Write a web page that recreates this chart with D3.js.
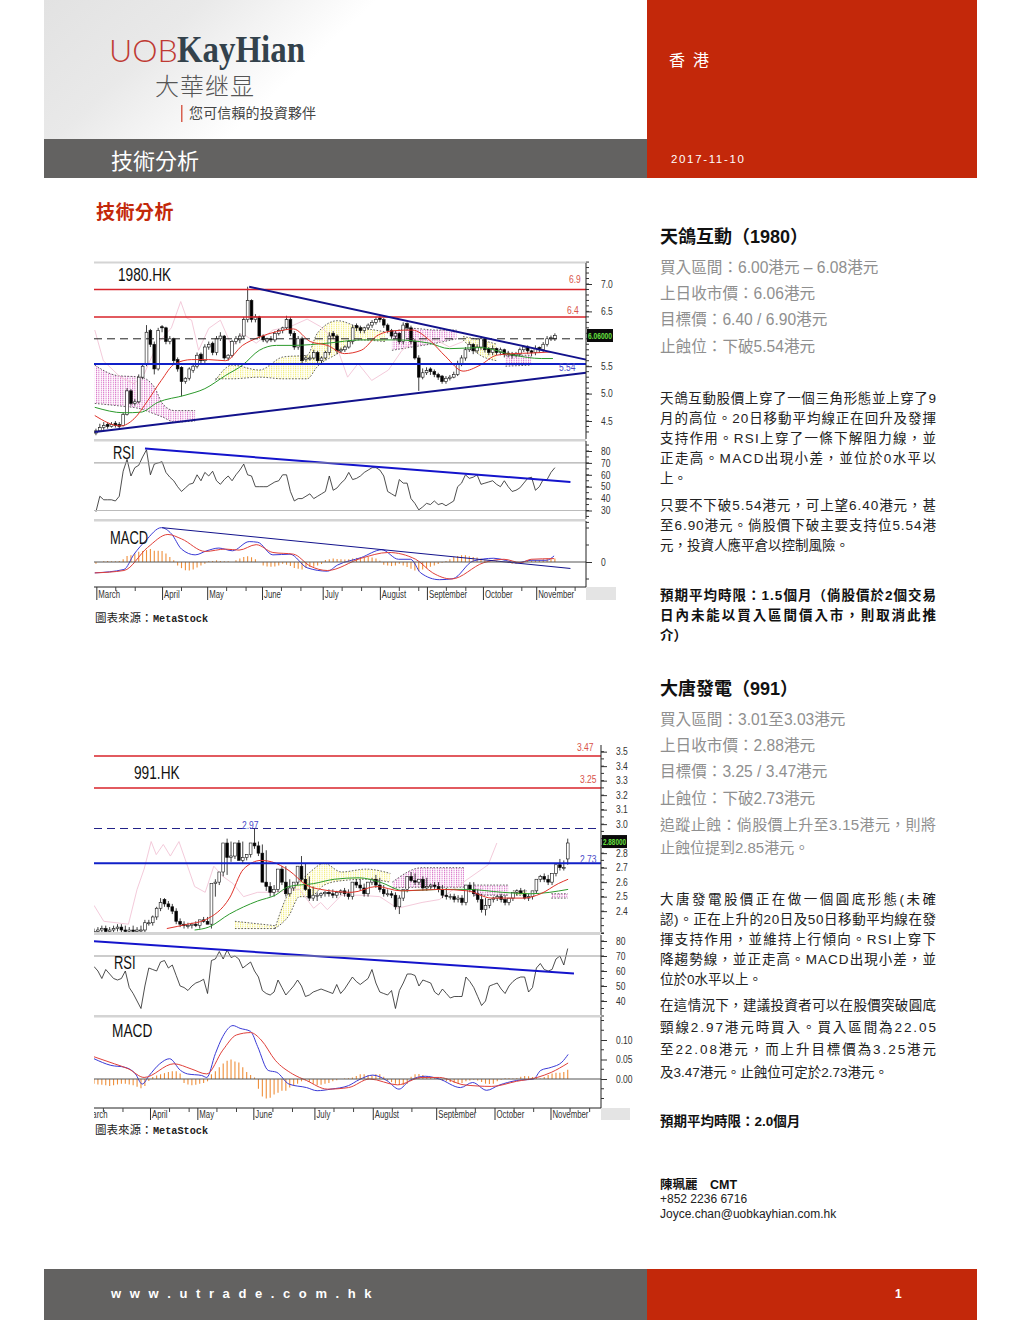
<!DOCTYPE html>
<html><head><meta charset="utf-8">
<script src="https://cdn.jsdelivr.net/npm/d3@7/dist/d3.min.js"></script>
<style>html,body{margin:0;padding:0;background:#fff}svg{display:block}</style>
</head><body><svg id="page" width="1020" height="1320"></svg>
<script>
// ---------- Chart 1: 1980.HK ----------
const open1=[4.28,4.32,4.38,4.44,4.40,4.46,4.44,4.42,4.62,5.05,4.82,4.85,5.30,5.55,6.15,5.90,5.45,6.22,6.20,5.95,6.00,5.62,5.48,5.22,5.28,5.42,5.50,5.72,5.60,5.85,5.92,5.75,6.00,6.05,5.65,5.70,5.95,5.98,6.05,6.35,6.70,6.35,6.40,6.05,5.96,6.00,5.98,6.10,6.15,6.20,6.35,6.10,5.85,6.00,5.62,5.65,5.65,5.75,5.60,5.65,5.75,6.10,6.05,5.78,5.80,5.85,5.95,6.24,6.20,6.15,6.20,6.25,6.30,6.38,6.35,6.25,6.15,6.05,6.10,5.95,6.28,6.20,5.95,5.65,5.30,5.38,5.45,5.40,5.35,5.32,5.22,5.28,5.30,5.35,5.55,5.65,5.80,5.90,5.78,5.85,6.00,5.82,5.75,5.82,5.75,5.80,5.74,5.72,5.70,5.72,5.80,5.85,5.78,5.75,5.84,5.80,5.90,6.00,6.00];
const high1=[4.36,4.45,4.48,4.48,4.48,4.50,4.48,4.66,5.10,5.08,4.90,5.35,5.55,6.25,6.18,5.95,6.20,6.25,6.22,6.05,6.02,5.66,5.50,5.30,5.48,5.55,5.75,5.75,5.90,5.95,5.95,6.05,6.12,6.07,5.72,5.98,6.05,6.10,6.40,6.95,6.72,6.45,6.42,6.08,6.02,6.05,6.14,6.18,6.22,6.42,6.40,6.14,6.05,6.04,5.70,5.70,5.80,5.78,5.68,5.78,6.12,6.14,6.08,5.84,5.88,5.98,6.25,6.28,6.24,6.22,6.28,6.34,6.40,6.42,6.38,6.28,6.18,6.14,6.12,6.30,6.30,6.24,6.00,5.70,5.46,5.48,5.48,5.44,5.38,5.34,5.32,5.34,5.40,5.60,5.70,5.85,5.95,5.92,5.90,6.05,6.02,5.85,5.88,5.84,5.84,5.82,5.78,5.76,5.76,5.84,5.88,5.88,5.80,5.88,5.86,5.94,6.05,6.06,6.10];
const low1=[4.24,4.30,4.34,4.36,4.38,4.38,4.36,4.40,4.60,4.78,4.78,4.82,5.26,5.50,5.85,5.35,5.42,6.12,5.90,5.90,5.55,5.40,4.95,5.18,5.24,5.38,5.46,5.55,5.56,5.80,5.70,5.70,5.96,5.62,5.60,5.66,5.90,5.92,6.00,6.30,6.30,6.30,6.00,5.94,5.92,5.94,5.94,6.06,6.10,6.16,6.05,5.80,5.80,5.55,5.58,5.60,5.62,5.56,5.55,5.62,5.70,6.00,5.72,5.74,5.76,5.82,5.90,6.14,6.10,6.10,6.16,6.20,6.26,6.30,6.20,6.10,6.00,6.00,5.90,5.90,6.15,5.90,5.62,5.05,5.26,5.34,5.34,5.30,5.25,5.18,5.18,5.24,5.28,5.32,5.50,5.60,5.76,5.72,5.74,5.80,5.75,5.70,5.70,5.70,5.70,5.66,5.66,5.64,5.66,5.68,5.76,5.72,5.68,5.70,5.74,5.76,5.86,5.96,5.96];
const close1=[4.32,4.38,4.42,4.40,4.44,4.42,4.40,4.62,5.05,4.82,4.85,5.30,5.50,6.12,5.90,5.45,6.15,6.20,5.95,6.00,5.60,5.45,5.22,5.28,5.45,5.50,5.70,5.60,5.85,5.90,5.75,6.00,6.05,5.65,5.70,5.95,6.00,6.05,6.35,6.70,6.35,6.40,6.05,5.98,6.00,5.98,6.10,6.15,6.20,6.35,6.10,5.85,6.00,5.60,5.65,5.65,5.75,5.60,5.65,5.75,6.05,6.05,5.78,5.80,5.85,5.95,6.20,6.20,6.15,6.20,6.25,6.30,6.35,6.35,6.25,6.15,6.05,6.10,5.95,6.25,6.20,5.95,5.65,5.30,5.38,5.42,5.40,5.35,5.30,5.22,5.28,5.30,5.35,5.55,5.65,5.80,5.90,5.78,5.85,6.00,5.80,5.75,5.82,5.75,5.80,5.72,5.72,5.70,5.72,5.80,5.85,5.78,5.75,5.82,5.80,5.90,6.00,6.02,6.06];
const ma20Days1=[-0.3,6.3,9.8,13.3,16.8,20.2,24.6,29,33.3,37.7,42,46.4,50.8,55.1,59.5,63.9,68.2,72.6,77,81.3,85.7,90,94.4,98.8,103,107.5,111.9,117];
const ma20Vals1=[4.6,4.41,4.54,4.87,5.24,5.54,5.62,5.62,5.6,5.88,6.03,6.13,6.18,5.95,5.88,5.73,5.79,6.07,6.15,6.16,5.98,5.67,5.41,5.52,5.7,5.73,5.74,5.76];
const ma50Days1=[-0.3,7.2,11.5,15.9,22.9,28,33.3,37.7,42,46.4,50.8,59.5,68.2,77,85.7,90.9,98.8,107.5,114.5,117.5];
const ma50Vals1=[4.75,4.65,4.66,4.84,4.97,5.09,5.33,5.52,5.79,5.88,5.88,5.92,5.98,5.98,5.92,5.82,5.84,5.7,5.64,5.64];
const lagDays1=[-0.3,1.9,6.3,9.8,12.4,15.9,19.4,21.8,23.3,24.6,26.4,29,32,35,37.7,41.2,45.5,49.9,54.3,57.8,61.3,64.7,67.4,70.9,75.2,78.7,82.2,87.4,90.9,94.4];
const lagVals1=[6.16,5.6,5.3,5.18,5.36,5.92,6.2,6.68,6.38,6.34,5.79,6.19,6.34,5.85,6.1,5.92,6.16,6.22,6.36,6.22,5.98,5.3,5.55,5.24,5.43,5.79,5.98,5.98,5.85,5.95];
const cloudKinds1=["pink","yellow","pink","yellow","pink"];
const cloudDays1=[[-0.3,5.4,11.5,15,17.2,20.2,25.5],[30.7,35,42,48.2,54.3,56.9,62.1,67.4,74.3],[76.1,81.3,87.4,92.7],[94.4,98.8,103.1],[105.3,111.9]];
const cloudTop1=[[5.52,5.33,5.3,5.12,4.81,4.69,4.69],[5.24,5.52,5.43,5.67,5.7,6.1,6.33,6.22,6.13],[6.13,6.19,6.16,6.16],[6.04,5.98,5.9],[5.7,5.7]];
const cloudBottom1=[[4.82,4.78,4.72,4.63,4.57,4.48,4.5],[5.27,5.27,5.3,5.27,5.27,5.49,5.73,5.98,5.95],[5.79,5.85,5.92,6.0],[5.98,5.7,5.6],[5.5,5.52]];
const rsi1=[29,42,39,39,39,38,42,63,73,59,66,68,75,81,60,69,70,71,62,58,55,50,46,49,52,53,60,55,62,59,63,55,52,56,59,55,60,64,69,60,59,50,50,50,50,52,54,55,60,60,46,38,40,40,42,44,40,42,44,46,59,47,49,53,56,62,56,57,59,62,64,66,66,64,59,46,44,42,56,53,53,40,36,30.5,33,36,35,38,35,36,34,36,38,50,53,60,57,58,60,52,53,54,55,52,50,55,50,46,47,49,53,57,58,47,50,56,56,62,66];
const macd1Days=[-0.3,7.2,9.8,12.8,16.8,19.4,22,25.5,28.5,31.6,35.1,39.4,41.6,45.5,49.9,54.3,59.5,62.1,68.2,73.5,77.8,80.9,83.5,88.3,91.8,97,102.3,108.4,111.9,115.8,117.8];
const macd1Vals=[-0.32,-0.22,0.23,0.63,1.01,0.83,0.38,0.21,0.33,0.41,0.33,0.6,0.58,0.21,0.23,-0.17,-0.27,-0.09,0.13,0.36,0.08,0.08,-0.32,-0.52,-0.49,0.03,0.11,-0.02,0.05,0.05,0.18];
const signal1Days=[-0.3,7.2,13.3,18.5,22,28.1,33.3,36.8,41.2,45.5,50.8,55.1,59.5,68.2,75.2,82.2,86.6,91.4,99.7,104.9,109.2,111.9,117.8];
const signal1Vals=[-0.32,-0.25,0.43,0.81,0.68,0.31,0.38,0.35,0.51,0.28,0.23,-0.12,-0.25,0.11,0.28,0.08,-0.32,-0.5,-0.02,0.08,-0.02,0.08,0.1];
const hist1=[-0.05,0,0.02,0.03,0.02,0.02,0.03,0.08,0.18,0.2,0.25,0.3,0.32,0.35,0.38,0.33,0.33,0.32,0.25,0.15,0.05,-0.1,-0.18,-0.24,-0.25,-0.22,-0.16,-0.1,-0.05,0.02,0.03,0.05,0.03,0.02,0.02,0,0.05,0.1,0.15,0.17,0.14,0.08,0,-0.1,-0.13,-0.14,-0.13,-0.1,-0.05,-0.08,-0.12,-0.18,-0.2,-0.22,-0.18,-0.15,-0.14,-0.1,-0.06,0.06,0.08,0.1,0.09,0.08,0.07,0.08,0.1,0.12,0.13,0.12,0.15,0.13,0.1,0.04,-0.08,-0.1,-0.12,-0.1,-0.05,-0.1,-0.15,-0.2,-0.25,-0.27,-0.22,-0.18,-0.14,-0.1,-0.06,-0.02,0.03,0.08,0.15,0.18,0.2,0.2,0.17,0.15,0.13,0.1,0.05,0.03,0.01,0.02,0,0,-0.03,-0.05,-0.06,-0.03,0.02,0.04,0.05,0.05,0.06,0.08,0.1,0.12,0.1];
const priceLevels1=[6.9,6.4];
const priceTicks1=[4.5,5.0,5.5,6.5,7.0];
const rsiTicks1=[30,40,50,60,70,80];
const resistance1Days=[39.4,126],resistance1Vals=[6.95,5.62];
const support1Days=[-0.3,126],support1Vals=[4.30,5.38];
const rsiTrend1Days=[12.6,122],rsiTrend1Vals=[82,54];
const macdTrend1Days=[17,122],macdTrend1Vals=[1.01,-0.19];

// ---------- Chart 2: 991.HK ----------
const open2=[2.25,2.26,2.27,2.28,2.26,2.27,2.28,2.29,2.27,2.26,2.27,2.26,2.27,2.27,2.32,2.32,2.36,2.42,2.48,2.45,2.43,2.40,2.33,2.31,2.30,2.30,2.31,2.30,2.34,2.33,2.31,2.59,2.60,2.67,2.87,2.77,2.78,2.87,2.75,2.77,2.79,2.87,2.85,2.80,2.60,2.57,2.53,2.55,2.69,2.60,2.52,2.56,2.60,2.71,2.62,2.55,2.49,2.51,2.51,2.52,2.53,2.52,2.51,2.53,2.54,2.52,2.50,2.60,2.58,2.56,2.52,2.60,2.62,2.58,2.55,2.52,2.52,2.51,2.43,2.49,2.55,2.64,2.61,2.60,2.62,2.56,2.57,2.58,2.57,2.55,2.51,2.50,2.50,2.48,2.49,2.46,2.58,2.55,2.52,2.48,2.41,2.44,2.48,2.49,2.50,2.48,2.46,2.49,2.53,2.54,2.52,2.49,2.50,2.54,2.62,2.64,2.62,2.60,2.66,2.72,2.70,2.76];
const high2=[2.28,2.29,2.30,2.30,2.29,2.30,2.31,2.31,2.30,2.29,2.30,2.29,2.30,2.34,2.34,2.37,2.43,2.49,2.49,2.47,2.45,2.42,2.35,2.33,2.32,2.32,2.33,2.32,2.36,2.36,2.33,2.62,2.63,2.72,2.90,2.88,2.80,2.89,2.88,2.79,2.82,2.97,2.88,2.86,2.82,2.60,2.58,2.57,2.71,2.71,2.62,2.58,2.62,2.78,2.73,2.64,2.57,2.53,2.53,2.54,2.55,2.55,2.54,2.55,2.56,2.55,2.53,2.62,2.62,2.59,2.57,2.63,2.65,2.63,2.58,2.55,2.54,2.53,2.51,2.51,2.57,2.67,2.66,2.62,2.64,2.63,2.59,2.60,2.60,2.58,2.56,2.52,2.52,2.51,2.51,2.50,2.60,2.60,2.55,2.52,2.49,2.46,2.50,2.51,2.52,2.51,2.49,2.51,2.55,2.56,2.55,2.52,2.52,2.56,2.65,2.66,2.65,2.63,2.69,2.76,2.75,2.90];
const low2=[2.23,2.24,2.25,2.24,2.24,2.25,2.26,2.25,2.24,2.24,2.25,2.24,2.25,2.25,2.30,2.30,2.34,2.40,2.43,2.41,2.38,2.31,2.29,2.28,2.28,2.28,2.29,2.28,2.32,2.31,2.28,2.50,2.58,2.64,2.65,2.74,2.76,2.75,2.73,2.75,2.77,2.83,2.78,2.60,2.54,2.50,2.50,2.53,2.58,2.50,2.50,2.54,2.58,2.60,2.54,2.47,2.47,2.47,2.49,2.50,2.50,2.49,2.49,2.51,2.50,2.48,2.48,2.56,2.54,2.50,2.50,2.58,2.56,2.53,2.50,2.50,2.49,2.41,2.38,2.47,2.53,2.60,2.58,2.58,2.54,2.54,2.55,2.55,2.53,2.49,2.48,2.48,2.46,2.46,2.44,2.44,2.53,2.50,2.46,2.39,2.37,2.42,2.46,2.47,2.46,2.44,2.44,2.47,2.51,2.52,2.48,2.47,2.48,2.52,2.60,2.60,2.58,2.58,2.64,2.68,2.68,2.72];
const close2=[2.26,2.27,2.28,2.26,2.27,2.28,2.29,2.27,2.26,2.27,2.26,2.27,2.27,2.32,2.32,2.36,2.42,2.46,2.45,2.43,2.40,2.33,2.31,2.30,2.30,2.31,2.30,2.34,2.33,2.31,2.59,2.60,2.67,2.87,2.77,2.78,2.87,2.75,2.77,2.79,2.87,2.85,2.80,2.60,2.57,2.53,2.55,2.69,2.60,2.52,2.56,2.60,2.71,2.62,2.55,2.49,2.51,2.51,2.52,2.53,2.52,2.51,2.53,2.54,2.52,2.50,2.60,2.58,2.56,2.52,2.60,2.62,2.58,2.55,2.52,2.52,2.51,2.43,2.49,2.55,2.64,2.61,2.60,2.62,2.56,2.57,2.58,2.57,2.55,2.51,2.50,2.50,2.48,2.49,2.46,2.58,2.55,2.52,2.48,2.41,2.44,2.48,2.49,2.50,2.48,2.46,2.49,2.53,2.54,2.52,2.49,2.50,2.54,2.62,2.64,2.62,2.60,2.66,2.72,2.70,2.70,2.87];
const ma20Days2=[18.6,23.9,28.4,34.6,38.2,42.7,45.4,49.8,54.3,57.9,65.9,72.1,78.4,88.2,95.4,101.6,109.6,114.1,118.6,121.1];
const ma20Vals2=[2.28,2.31,2.34,2.49,2.69,2.75,2.74,2.68,2.58,2.55,2.53,2.57,2.54,2.55,2.54,2.49,2.49,2.52,2.59,2.62];
const ma50Days2=[25.7,29.3,34.6,41.8,46.3,49.8,56.1,61.4,67.7,73,79.3,88.2,95.4,104.3,111.4,121.1];
const ma50Vals2=[2.27,2.29,2.38,2.47,2.51,2.57,2.59,2.62,2.63,2.6,2.54,2.55,2.55,2.53,2.52,2.55];
const lagDays2=[0,2.5,8.8,11,12.8,14.6,15.9,17.7,19.5,21.7,23.9,25.7,28.4,30.6,32.9,35.5,38.2,41.8,44.9,48.9,52.5,56.1,57.9,59.6,63.2,67.7,73,77.5,83.8,88.2,95.4,100.7,102.9];
const lagVals2=[2.44,2.33,2.31,2.55,2.69,2.88,2.79,2.86,2.78,2.88,2.71,2.57,2.53,2.71,2.64,2.59,2.5,2.53,2.53,2.54,2.55,2.42,2.46,2.41,2.51,2.51,2.5,2.42,2.46,2.48,2.62,2.72,2.87];
const cloudKinds2=["yellow","yellow","pink","pink","yellow","pink"];
const cloudDays2=[[36,46.2],[46.2,49.8,52.5,55.2,58.8,63.2,69.5,75.7],[76.2,83.8,94.5],[97.1,106],[107,110.5],[116.8,121]];
const cloudTop2=[[2.33,2.30],[2.28,2.53,2.6,2.67,2.73,2.67,2.69,2.66],[2.6,2.7,2.7],[2.58,2.58],[2.54,2.54],[2.52,2.52]];
const cloudBottom2=[[2.28,2.28],[2.28,2.37,2.5,2.5,2.58,2.61,2.62,2.6],[2.56,2.565,2.565],[2.51,2.51],[2.51,2.51],[2.49,2.49]];
const rsi2=[63,60,55,61,58,55,54,55,60,49,45,40,35,50,62,61,60,66,67,62,64,57,50,49,47,50,52,53,54.5,45,67,68,73,68,74,69,70,68,62,64,66,60,56,47,45,44,46,54,49,44,47,50,54,50,43,44,46,47,48,47,46,45,51,45,48,52,56,53,51,53,55,61,52,46,45,44,47,35,47,52,58,58,57,50,54,53,52,46,44,48,45,42,43,43,43,56,53,49,43,37,40,50,51,52,48,45,50,53,55,56,56,46,49,62,65,61,60,61,68,70,64,75];
const macd2Days=[0,4.3,7.9,10.6,12.3,14.1,16.8,19.3,22.1,23.9,27.5,28.8,31,32.9,35.5,37.3,40,41.8,44.5,46.7,49.8,54.3,57,60.5,65,67.7,71.2,74.8,77.9,80.6,84.6,88.2,93.6,96.7,100.3,103.4,107.9,112.3,114.1,116.8,119.5,121.1];
const macd2Vals=[0.052,0.035,0.03,0.013,-0.013,0.009,0.039,0.052,0.022,0.013,0.009,0.004,0.065,0.109,0.137,0.13,0.122,0.083,0.022,0.017,-0.013,-0.022,-0.03,-0.026,-0.017,-0.002,0.01,-0.004,-0.026,-0.004,0.007,0,-0.022,-0.009,-0.029,-0.016,-0.004,0,0.022,0.03,0.043,0.063];
const signal2Days=[0,5.2,8.8,12.8,20.4,24.8,28.8,32.9,36.4,40,42.7,46.3,50.7,54.3,59.6,65,70.4,77.5,83.8,88.2,94.5,101.6,107.9,113.2,116.8,121.1];
const signal2Vals=[0.057,0.039,0.026,0.004,0.039,0.026,0.013,0.074,0.113,0.119,0.1,0.048,0.013,-0.004,-0.026,-0.022,0,-0.015,0.004,0.004,-0.015,-0.019,-0.006,0.004,0.017,0.041];
const hist2=[-0.012,-0.014,-0.015,-0.016,-0.018,-0.016,-0.014,-0.012,-0.012,-0.014,-0.016,-0.02,-0.024,-0.018,-0.005,0.005,0.009,0.012,0.015,0.018,0.02,0.02,0.014,-0.01,-0.014,-0.016,-0.015,-0.012,-0.01,-0.006,0.012,0.02,0.03,0.04,0.047,0.05,0.045,0.042,0.03,0.018,0.01,0.004,-0.025,-0.045,-0.05,-0.048,-0.04,-0.035,-0.03,-0.03,-0.022,-0.018,-0.012,-0.006,-0.002,-0.008,-0.012,-0.016,-0.015,-0.012,-0.01,-0.006,-0.003,0,0.001,0.002,0.004,0.008,0.012,0.012,0.01,0.009,0.012,0.012,0.006,-0.004,-0.008,-0.012,-0.014,-0.016,-0.012,0.006,0.012,0.013,0.01,0.006,0.004,0.002,0,-0.004,-0.006,-0.008,-0.01,-0.012,-0.01,-0.006,-0.004,-0.002,-0.004,-0.008,-0.012,-0.013,-0.012,-0.006,-0.002,0.002,0.002,0.001,0.002,0.006,0.008,0.007,0.005,0.003,0.001,0.005,0.01,0.014,0.016,0.016,0.018,0.024];
const priceLevels2=[3.47,3.25];
const priceTicks2=[2.4,2.5,2.6,2.7,2.8,3.0,3.1,3.2,3.3,3.4,3.5];
const rsiTicks2=[40,50,60,70,80];
const macdTicks2=[0,0.05,0.10];
const rsiTrend2Days=[-1,122.6],rsiTrend2Vals=[80,58.4];

// ---------- Axis labels ----------
const monthNames=["March","April","May","June","July","August","September","October","November"];
const monthDays1=[0.1,17,28.6,42.7,58.3,73,85.1,99.5,113.2];
const monthDays2=[-2.6,14.3,26.4,40.7,56.3,71.2,87.4,102.3,116.6];

// ---------- Text ----------
const stock1Lines=["買入區間：6.00港元 – 6.08港元","上日收市價：6.06港元","目標價：6.40 / 6.90港元","止蝕位：下破5.54港元"];
const stock1Body=["天鴿互動股價上穿了一個三角形態並上穿了9","月的高位。20日移動平均線正在回升及發揮","支持作用。RSI上穿了一條下解阻力線，並","正走高。MACD出現小差，並位於0水平以","上。"];
const stock1Body2=["只要不下破5.54港元，可上望6.40港元，甚","至6.90港元。倘股價下破主要支持位5.54港","元，投資人應平倉以控制風險。"];
const stock1Note=["預期平均時限：1.5個月（倘股價於2個交易","日內未能以買入區間價入市，則取消此推","介）"];
const stock2Lines=["買入區間：3.01至3.03港元","上日收市價：2.88港元","目標價：3.25 / 3.47港元","止蝕位：下破2.73港元"];
const stock2Trail=["追蹤止蝕：倘股價上升至3.15港元，則將","止蝕位提到2.85港元。"];
const stock2Body=["大唐發電股價正在做一個圓底形態(未確","認)。正在上升的20日及50日移動平均線在發","揮支持作用，並維持上行傾向。RSI上穿下","降趨勢線，並正走高。MACD出現小差，並","位於0水平以上。"];
const stock2Body2=["在這情況下，建議投資者可以在股價突破圓底","頸線2.97港元時買入。買入區間為22.05","至22.08港元，而上升目標價為3.25港元","及3.47港元。止蝕位可定於2.73港元。"];

const CJK="'Noto Sans CJK TC','Noto Sans CJK SC',sans-serif";
const LATIN="'Liberation Sans','Noto Sans CJK TC',sans-serif";
const svg=d3.select("#page");
const defs=svg.append("defs");

const grad=defs.append("linearGradient").attr("id","hdr").attr("x1","0%").attr("x2","100%").attr("y1","0%").attr("y2","25%");
grad.append("stop").attr("offset","0%").attr("stop-color","#e2e2e2");
grad.append("stop").attr("offset","25%").attr("stop-color","#e9e9e9");
grad.append("stop").attr("offset","52%").attr("stop-color","#ffffff");
function rect(x,y,w,h,f){return svg.append("rect").attr("x",x).attr("y",y).attr("width",w).attr("height",h).attr("fill",f);}
function text(s,x,y,size,fill,opt={}){
  const t=svg.append("text").attr("x",x).attr("y",y).attr("font-size",size).attr("fill",fill)
    .attr("font-family",opt.font||LATIN).attr("font-weight",opt.bold?"bold":"normal").text(s);
  if(opt.anchor)t.attr("text-anchor",opt.anchor);
  if(opt.spacing)t.attr("letter-spacing",opt.spacing);
  if(opt.len)t.attr("textLength",opt.len).attr("lengthAdjust",opt.adjust||"spacing");
  return t;
}
// horizontally condense a text: no condensed face is installed
function squeeze(sel,f){sel.each(function(){const w=this.getComputedTextLength();d3.select(this).attr("textLength",w*f).attr("lengthAdjust","spacingAndGlyphs");});}

rect(44,0,603,139,"url(#hdr)");
rect(44,139,603,39,"#636261");
rect(647,0,330,178,"#c3280a");
rect(44,1269,603,51,"#636261");
rect(647,1269,330,51,"#c3280a");

text("UOB",109,62,32,"#bf3a33",{font:"'Lato','Liberation Sans',sans-serif"}).attr("font-weight",300);
text("KayHian",177,62,37,"#33424c",{font:"'Liberation Serif',serif",bold:true,len:128,adjust:"spacingAndGlyphs"});
text("大華继显",155,95,24,"#555",{font:CJK,len:99}).attr("font-weight",300);
rect(181,105,1.5,17,"#d8604f");
text("您可信賴的投資夥伴",189,118,14,"#444",{font:CJK,len:127});
text("技術分析",111,169,22,"#fff",{font:CJK});
text("香 港",669,66,16,"#fff",{font:CJK,len:40});
text("2017-11-10",671,163,11.5,"#fff",{spacing:1.65});
text("技術分析",96,219,19,"#c3280a",{font:CJK,bold:true,spacing:0.5});
text("w w w . u t r a d e . c o m . h k",111,1298,13,"#fff",{bold:true,spacing:2.5});
text("1",895,1298,12,"#fff",{bold:true});

function block(lines,ys,size,fill,bold,justify){
  lines.forEach((s,k)=>{
    const o={bold:bold};
    if(justify&&k<justify)o.len=276;
    text(s,660,ys[k],size,fill,o);
  });
}
text("天鴿互動（1980）",660,243,18,"#111",{bold:true});
block(stock1Lines,[273,299,325,352],15.6,"#8f8f8f",false);
block(stock1Body,[403,423,443,463,483],13.5,"#222",false,4);
block(stock1Body2,[510,530,550],13.5,"#222",false,2);
block(stock1Note,[600,620,640],13.5,"#111",true,2);
text("大唐發電（991）",660,695,18,"#111",{bold:true});
block(stock2Lines,[725,751,777,804],15.6,"#8f8f8f",false);
block(stock2Trail,[830,853],15,"#8f8f8f",false,1);
block(stock2Body,[904,924,944,964,984],13.5,"#222",false,4);
block(stock2Body2,[1010,1032,1054,1077],13.5,"#222",false,3);
text("預期平均時限：2.0個月",660,1126,13.5,"#111",{bold:true});
text("陳珮麗",660,1189,12.5,"#111",{font:CJK,bold:true});
text("CMT",710,1189,12.5,"#111",{bold:true});
text("+852 2236 6716",660,1203,12,"#222");
text("Joyce.chan@uobkayhian.com.hk",660,1218,12,"#222");

function hatch(id,col){
  const p=defs.append("pattern").attr("id",id).attr("patternUnits","userSpaceOnUse").attr("width",2.4).attr("height",2);
  p.append("rect").attr("x",0).attr("y",0).attr("width",1).attr("height",1.4).attr("fill",col);
}
hatch("hpink","#d872c8");hatch("hyellow","#f4ee78");

function source(y){
  text("圖表來源：",95,y,11.5,"#222",{font:CJK});
  text("MetaStock",153,y,10.2,"#222",{font:"'Liberation Mono','DejaVu Sans Mono',monospace",bold:true});
}

function chart(c){
  const x=d3.scaleLinear().domain(c.xDomain).range([c.left,c.right]);
  const yP=d3.scaleLinear().domain(c.priceDomain).range(c.priceRange);
  const yR=d3.scaleLinear().domain(c.rsiDomain).range(c.rsiRange);
  const yM=d3.scaleLinear().domain(c.macdDomain).range(c.macdRange);
  const fullLeft=c.left, axisX=c.right;
  const g=svg.append("g");
  const clipId=n=>"clip"+c.id+n;
  function clip(n,y0,y1){defs.append("clipPath").attr("id",clipId(n)).append("rect").attr("x",fullLeft).attr("y",y0).attr("width",axisX-fullLeft).attr("height",y1-y0);}
  clip("p",c.priceTop,c.priceBottom);clip("r",c.rsiTop,c.rsiBottom);clip("m",c.macdTop,c.macdBottom);
  const gp=g.append("g").attr("clip-path",`url(#${clipId("p")})`);
  const gr=g.append("g").attr("clip-path",`url(#${clipId("r")})`);
  const gm=g.append("g").attr("clip-path",`url(#${clipId("m")})`);

  c.cloudKinds.forEach((kind,k)=>{
    const pts=c.cloudDays[k].map((d,j)=>({d,t:c.cloudTop[k][j],b:c.cloudBottom[k][j]}));
    gp.append("path").attr("d",d3.area().x(p=>x(p.d)).y0(p=>yP(p.b)).y1(p=>yP(p.t)).curve(d3.curveMonotoneX)(pts)).attr("fill",`url(#h${kind})`);
    ["t","b"].forEach(key=>gp.append("path").attr("d",d3.line().x(p=>x(p.d)).y(p=>yP(p[key])).curve(d3.curveMonotoneX)(pts))
      .attr("fill","none").attr("stroke","#222").attr("stroke-width",0.7).attr("stroke-dasharray","1.6,1.6"));
  });
  const series=(days,vals)=>days.map((d,j)=>({d,v:vals[j]}));
  const ln=(sel,sc,data,col,w,curve=d3.curveMonotoneX)=>sel.append("path").attr("d",d3.line().x(p=>x(p.d)).y(p=>sc(p.v)).curve(curve)(data)).attr("fill","none").attr("stroke",col).attr("stroke-width",w);
  ln(gp,yP,series(c.lagDays,c.lagVals),"#f2c4d6",0.9,d3.curveLinear);

  const idx=d3.range(c.close.length);
  gp.selectAll(".wick").data(idx).join("line").attr("x1",i=>x(i)).attr("x2",i=>x(i)).attr("y1",i=>yP(c.high[i])).attr("y2",i=>yP(c.low[i])).attr("stroke","#111").attr("stroke-width",0.8);
  gp.selectAll(".body").data(idx).join("rect").attr("x",i=>x(i)-1.4).attr("width",2.8)
    .attr("y",i=>yP(Math.max(c.open[i],c.close[i]))).attr("height",i=>Math.max(1,Math.abs(yP(c.open[i])-yP(c.close[i]))))
    .attr("fill",i=>c.close[i]<c.open[i]?"#000":"#fff").attr("stroke","#111").attr("stroke-width",0.6);
  ln(gp,yP,series(c.ma50Days,c.ma50Vals),"#2c9a2c",1);
  ln(gp,yP,series(c.ma20Days,c.ma20Vals),"#e0332a",1);

  const hline=(v,col,w,dash)=>{const l=g.append("line").attr("x1",fullLeft).attr("x2",axisX).attr("y1",yP(v)).attr("y2",yP(v)).attr("stroke",col).attr("stroke-width",w);if(dash)l.attr("stroke-dasharray",dash);};
  c.levels.forEach(v=>hline(v,"#d8232a",1.5));
  hline(c.supportLevel,"#1020c8",2);
  hline(c.dashLevel,c.dashColor,1,"8,5");
  (c.tl||[]).forEach(t=>ln(g,yP,series(t[0],t[1]),"#12128c",2,d3.curveLinear));

  g.append("line").attr("x1",fullLeft).attr("x2",axisX).attr("y1",yR(70)).attr("y2",yR(70)).attr("stroke","#999").attr("stroke-width",1);
  if(c.rsi30)g.append("line").attr("x1",fullLeft).attr("x2",axisX).attr("y1",yR(30)).attr("y2",yR(30)).attr("stroke","#bbb").attr("stroke-width",1);
  ln(gr,yR,c.rsi.map((v,d)=>({d,v})),"#222",0.8,d3.curveLinear);
  ln(gr,yR,series(c.rsiTrend[0],c.rsiTrend[1]),"#1414cc",2,d3.curveLinear);

  gm.selectAll(".h").data(c.hist).join("line").attr("x1",(v,i)=>x(i)).attr("x2",(v,i)=>x(i)).attr("y1",yM(0)).attr("y2",v=>yM(v)).attr("stroke","#ef8f3a").attr("stroke-width",1.1);
  g.append("line").attr("x1",fullLeft).attr("x2",axisX).attr("y1",yM(0)).attr("y2",yM(0)).attr("stroke","#555").attr("stroke-width",1);
  ln(gm,yM,series(c.macdDays,c.macdVals),"#3a3ad6",1);
  ln(gm,yM,series(c.sigDays,c.sigVals),"#e0403a",1);
  if(c.macdTrend)ln(gm,yM,series(c.macdTrend[0],c.macdTrend[1]),"#12128c",1,d3.curveLinear);

  const gs=g.append("g");
  c.seps.forEach(s=>gs.append("rect").attr("x",fullLeft).attr("y",s[0]).attr("width",axisX-fullLeft).attr("height",s[1]).attr("fill","#d4d4d4"));

  const axis=(sc,ticks,minor,fmt,top,bottom)=>{
    const a=g.append("g").attr("transform",`translate(${axisX},0)`);
    a.append("line").attr("y1",top).attr("y2",bottom).attr("stroke","#222");
    a.selectAll(".minor").data(minor).join("line").attr("x1",0).attr("x2",3).attr("y1",sc).attr("y2",sc).attr("stroke","#333");
    const ax=d3.axisRight(sc).tickValues(ticks).tickSize(6).tickPadding(c.labelPad).tickFormat(fmt);
    const gg=a.append("g").call(ax);
    gg.select(".domain").remove();
    gg.selectAll("text").attr("font-family",LATIN).attr("font-size",10).attr("fill","#333").call(squeeze,0.85);
    gg.selectAll("line").attr("stroke","#333");
  };
  const f1=d3.format(".1f"),f0=d3.format("d"),f2=d3.format(".2f");
  axis(yP,c.priceTicks,d3.range(c.minorP[0],c.minorP[1],c.minorP[2]),f1,c.priceTop,c.priceBottom);
  axis(yR,c.rsiTicks,d3.range(c.rsiTicks[0]-10,86,5),f0,c.rsiTop,c.rsiBottom);
  axis(yM,c.macdTicks,c.macdMinor,c.macdFmt==="2"?f2:f0,c.macdTop,c.macdBottom);

  const b=g.append("g").attr("transform",`translate(0,${c.macdBottom})`);
  const ba=d3.axisBottom(x).tickValues(c.months).tickSize(c.bottomH).tickFormat("");
  const bg=b.call(ba);
  bg.select(".domain").attr("d",`M${fullLeft},0H${axisX}`).attr("stroke","#222");
  bg.selectAll("line").attr("stroke","#333");
  const weeks=[];c.months.forEach((m,k)=>{const nx=k<c.months.length-1?c.months[k+1]:m+15;for(let d=m+5;d<nx-2;d+=5)weeks.push(d);});
  b.selectAll(".w").data(weeks).join("line").attr("x1",x).attr("x2",x).attr("y1",0).attr("y2",4).attr("stroke","#444");
  b.selectAll(".ml").data(monthNames).join("text").attr("x",(d,k)=>x(c.months[k])+2).attr("y",c.bottomH-2)
    .attr("text-anchor","start").text(d=>d).attr("font-family",LATIN).attr("font-size",10).attr("fill","#333").call(squeeze,0.78);
  rect(axisX,c.macdBottom,c.boxW,c.bottomH,"#e4e4e4");
  rect(c.left-40,c.macdBottom,40,c.bottomH,"#fff");

  const by=yP(c.lastPrice);
  rect(axisX+1,by-6.5,c.boxW-4,13,"#0a0a0a");
  text(c.lastText,axisX+2,by+3.5,9,"#66e040",{bold:true}).attr("textLength",c.boxW-6).attr("lengthAdjust","spacingAndGlyphs");

  c.labels.forEach(l=>text(l[0],l[1],l[2],l[3],l[4]).call(squeeze,l[5]));
  return {x,yP};
}

chart({id:1,left:94,right:586,xDomain:[-0.5,126],
  priceDomain:[7,4.2],priceRange:[284,284+2.8*54.8],priceTop:263,priceBottom:439,
  rsiDomain:[80,30],rsiRange:[451,510.5],rsiTop:441,rsiBottom:519,rsi30:true,
  macdDomain:[1,-0.5],macdRange:[528,579],macdTop:521,macdBottom:587,
  open:open1,high:high1,low:low1,close:close1,
  ma20Days:ma20Days1,ma20Vals:ma20Vals1,ma50Days:ma50Days1,ma50Vals:ma50Vals1,lagDays:lagDays1,lagVals:lagVals1,
  cloudKinds:cloudKinds1,cloudDays:cloudDays1,cloudTop:cloudTop1,cloudBottom:cloudBottom1,
  levels:priceLevels1,supportLevel:5.54,dashLevel:6.0,dashColor:"#222",
  tl:[[resistance1Days,resistance1Vals],[support1Days,support1Vals]],
  rsi:rsi1,rsiTrend:[rsiTrend1Days,rsiTrend1Vals],
  hist:hist1,macdDays:macd1Days,macdVals:macd1Vals,sigDays:signal1Days,sigVals:signal1Vals,macdTrend:[macdTrend1Days,macdTrend1Vals],
  seps:[[261.5,2],[439,2.5],[519,2.5]],
  priceTicks:priceTicks1,minorP:[4.3,7.4,0.1],rsiTicks:rsiTicks1,macdTicks:[0],macdMinor:[-0.5,0.5,1],macdFmt:"0",
  months:monthDays1,bottomH:13,boxW:30,labelPad:9,lastPrice:6.06,lastText:"6.06000",
  labels:[["1980.HK",118,281,18,"#111",0.76],["RSI",113,459,18,"#111",0.72],["MACD",110,544,18,"#111",0.72],
    ["6.9",569,283,10,"#d8534a",0.85],["6.4",567,314,10,"#d8534a",0.85],["5.54",559,371,10,"#4a4ac8",0.85]]});
source(622);

chart({id:2,left:94,right:601,xDomain:[0,129.5],
  priceDomain:[3.47,2.2],priceRange:[756,756+1.27*145],priceTop:745,priceBottom:932,
  rsiDomain:[80,40],rsiRange:[941,1001],rsiTop:935,rsiBottom:1015,rsi30:false,
  macdDomain:[0.1,0],macdRange:[1040,1079],macdTop:1017,macdBottom:1108,
  open:open2,high:high2,low:low2,close:close2,
  ma20Days:ma20Days2,ma20Vals:ma20Vals2,ma50Days:ma50Days2,ma50Vals:ma50Vals2,lagDays:lagDays2,lagVals:lagVals2,
  cloudKinds:cloudKinds2,cloudDays:cloudDays2,cloudTop:cloudTop2,cloudBottom:cloudBottom2,
  levels:priceLevels2,supportLevel:2.73,dashLevel:2.97,dashColor:"#222288",
  tl:[],
  rsi:rsi2,rsiTrend:[rsiTrend2Days,rsiTrend2Vals],
  hist:hist2,macdDays:macd2Days,macdVals:macd2Vals,sigDays:signal2Days,sigVals:signal2Vals,macdTrend:null,
  seps:[[932,3],[1015,2.5]],
  priceTicks:priceTicks2,minorP:[2.25,3.55,0.05],rsiTicks:rsiTicks2,macdTicks:macdTicks2,macdMinor:[-0.05,-0.025,0.025,0.075,0.125,0.15],macdFmt:"2",
  months:monthDays2,bottomH:12,boxW:29,labelPad:9,lastPrice:2.88,lastText:"2.88000",
  labels:[["991.HK",134,779,19,"#111",0.72],["RSI",114,969,18,"#111",0.72],["MACD",112,1037,18,"#111",0.76],
    ["3.47",577,751,10,"#d8534a",0.85],["3.25",580,783,10,"#d8534a",0.85],["2.73",580,863,10,"#4a4ac8",0.85],["2.97",242,829,10,"#4a4ac8",0.85]]});
source(1134);
</script></body></html>
